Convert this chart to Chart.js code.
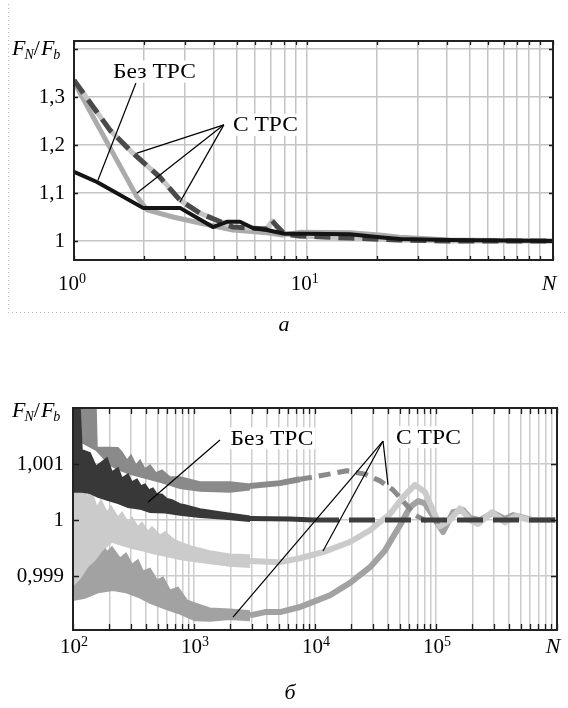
<!DOCTYPE html>
<html><head><meta charset="utf-8">
<script src="https://cdn.jsdelivr.net/npm/chart.js@4.4.1/dist/chart.umd.min.js"></script>
<style>
html,body{margin:0;padding:0;background:#fff;width:568px;height:708px;overflow:hidden;}
canvas{position:absolute;left:0;}
#ca{top:0;} #cb{top:345px;}
</style></head><body>
<canvas id="ca" width="568" height="345"></canvas>
<canvas id="cb" width="568" height="363"></canvas>
<script>
// ===== Panel a data =====
const aXMin = 1, aXMax = 114, aYMin = 0.9604, aYMax = 1.4167;
const aXTicks = [1,2,3,4,5,6,7,8,9,10,20,30,40,50,60,70,80,90,100,114];
const aXLabelVals = [1, 10, 114];
const aXLabels = ['10^0', '10^1', 'N'];
const aYTicks = [1, 1.1, 1.2, 1.3, 1.4];
const aYLabels = ['1', '1,1', '1,2', '1,3', ''];

const aBlackN = [1, 1.255, 1.978, 2.851, 3.95, 4.53, 5.16, 5.86, 6.72, 8.03, 10, 15.3, 20.5, 25, 41, 114];
const aBlackV = [1.144, 1.123, 1.069, 1.069, 1.029, 1.04, 1.04, 1.027, 1.023, 1.015, 1.015, 1.014, 1.008, 1.004, 1.002, 1.0];
const aLightN = [1, 1.864, 2.058, 2.66, 3.47, 4.82, 6.72, 7.87, 9.3, 15.3, 20.5, 25, 41, 114];
const aLightV = [1.331, 1.092, 1.065, 1.05, 1.0375, 1.023, 1.017, 1.0125, 1.018, 1.017, 1.0125, 1.008, 1.002, 1.0];
const aDashN = [1, 1.427, 1.791, 2.337, 2.851, 3.47, 4.82, 6.72, 7.1, 7.42, 8.03, 9.3, 15.3, 25, 41, 114];
const aDashV = [1.335, 1.231, 1.183, 1.133, 1.085, 1.058, 1.029, 1.025, 1.042, 1.031, 1.0146, 1.0104, 1.006, 1.002, 1.0, 1.0];

const aTextBez = {x: 2.216, y: 1.353, t: 'Без ТРС'};
const aTextS = {x: 6.636, y: 1.242, t: 'С ТРС'};
const aLeadBez = [[1.845, 1.329], [1.268, 1.127]];
const aLeadApex = [4.40, 1.242];
const aLeadTargets = [[1.864, 1.183], [1.864, 1.1], [2.851, 1.081]];

// ===== Panel b data =====
const bXMin = 100, bXMax = 1000000, bYMin = 0.99804, bYMax = 1.002;
const bXTicks = [100,200,300,400,500,600,700,800,900,1000,2000,3000,4000,5000,6000,7000,8000,9000,
  10000,20000,30000,40000,50000,60000,70000,80000,90000,100000,200000,300000,400000,500000,600000,700000,800000,900000,1000000];
const bXLabelVals = [100, 1000, 10000, 100000, 1000000];
const bXLabels = ['10^2', '10^3', '10^4', '10^5', 'N'];
const bYTicks = [0.999, 1, 1.001];
const bYLabels = ['0,999', '1', '1,001'];

// "Без ТРС" (dark): oscillation envelope then settled line
const bDarkTopN = [100,114.3,118.7,138.2,154.9,191,210.1,235.4,254.1,284.8,307.3,338,364.8,393.6,424.8,458.5,494.6,543.9,598.3,658.2,766.2,842.6,1121,1804,2903];
const bDarkTopV = [1.002,1.002,1.00125,1.0012,1.00096,1.00111,1.00086,1.00093,1.00075,1.00082,1.00068,1.00073,1.00061,1.00064,1.00054,1.00057,1.00046,1.00046,1.00038,1.00036,1.00029,1.00027,1.0002,1.00013,1.00007];
const bDarkBotN = [100,118.7,138.2,160.9,191,235.4,284.8,357.8,433,575.9,766.2,1121,1804,2903];
const bDarkBotV = [1.0005,1.0005,1.00048,1.00041,1.00036,1.0003,1.00023,1.0002,1.00014,1.00013,1.00009,1.00005,1.00002,0.99998];
const bDarkN = [2903, 6215, 9627];
const bDarkV = [1.00003, 1.00002, 1.0];
const bDarkDashN = [9627, 1000000];
const bDarkDashV = [1.0, 1.0];

// "С ТРС" upper (medium gray)
const bUpTopN = [107.9,154.9,157.9,235.4,254.1,279.4,301.6,331.6,357.8,393.6,433,485.3,543.9,633.6,766.2,1121,1984,2903];
const bUpTopV = [1.002,1.002,1.0013,1.00129,1.00121,1.00107,1.00116,1.00098,1.00107,1.00091,1.00098,1.00084,1.00089,1.00077,1.00077,1.00068,1.00068,1.00064];
const bUpBotN = [107.9,154.9,202.2,244.5,295.8,393.6,523.6,766.2,1121,1984,2903];
const bUpBotV = [1.00143,1.00125,1.00098,1.00089,1.00082,1.00075,1.00068,1.00057,1.00052,1.0005,1.00054];
const bUpperN = [2903, 5137, 7516];
const bUpperV = [1.00061, 1.00066, 1.00073];
const bUpperDashN = [7516,10999,18390,25900,34450,44120,55440,67060,84270,107900];
const bUpperDashV = [1.00073,1.00079,1.00088,1.00082,1.0007,1.00054,1.0003,1.00009,0.99998,0.99998];

// "С ТРС" middle (light gray)
const bLtTopN = [100,105.9,112.1,118.7,130.5,140.9,157.9,170.4,191,206.1,235.4,254.1,284.8,307.3,344.5,371.7,416.8,449.8,523.6,575.9,696.6,926.7,1356,1984,2903];
const bLtTopV = [1.00102,1.00098,1.00063,1.00075,1.00041,1.00054,1.00023,1.00036,1.00014,1.00025,1.00005,1.00014,0.99996,1.00005,0.99988,0.99996,0.9998,0.99988,0.99973,0.99979,0.99964,0.99954,0.99945,0.99939,0.99938];
const bLtBotN = [100,114.3,133,152,173.6,210.1,254.1,307.3,371.7,449.8,575.9,766.2,1121,1984,2903];
const bLtBotV = [0.99884,0.99896,0.99918,0.99929,0.99946,0.99961,0.99955,0.9995,0.99946,0.99941,0.99936,0.9993,0.99925,0.99918,0.99916];
const bLightN = [2903,5137,7516,11646,19470,28480,41680,55440,67060,81140,107900,130500,157900,191000,222400,290300,371700,449800,598300,1000000];
const bLightV = [0.99927,0.99925,0.99932,0.99943,0.99961,0.99982,1.00011,1.00045,1.00063,1.0005,0.99989,1.0,1.00021,1.0,0.99993,1.00014,0.99996,1.00007,1.0,1.0];

// "С ТРС" lower (gray)
const bLoTopN = [100,114.3,125.6,138.2,152,170.4,191,210.1,244.5,274.2,307.3,344.5,378.9,433,494.6,554.4,633.6,737.6,875.3,1019,1356,1984,2903];
const bLoTopV = [1.00018,1.00004,0.99973,0.99982,0.99955,0.99964,0.99943,0.99952,0.99932,0.99941,0.99921,0.99929,0.99909,0.99914,0.99893,0.99898,0.99875,0.9988,0.99857,0.99852,0.99843,0.99841,0.99838];
const bLoBotN = [100,125.6,160.9,214.1,274.2,344.5,433,554.4,737.6,1019,1356,1984,2903];
const bLoBotV = [0.99857,0.99861,0.99871,0.99875,0.99871,0.99863,0.99852,0.99843,0.99834,0.99821,0.9982,0.99823,0.99821];
const bLowerN = [2903,3863,5137,7516,9094,13305,19470,28480,37890,50410,60970,71010,81140,114300,138200,167200,191000,231000,295900,371700,433000,633600,1000000];
const bLowerV = [0.9983,0.99836,0.99836,0.99845,0.99852,0.99866,0.99888,0.99916,0.99946,0.99991,1.00023,1.00034,1.0003,0.99979,1.00014,1.00018,1.00004,1.0,1.00013,1.00002,1.00009,1.0,1.0];

const bTextBez = {x: 4412, y: 1.00146, t: 'Без ТРС'};
const bTextS = {x: 86700, y: 1.00148, t: 'С ТРС'};
const bLeadBez = [[1640, 1.00143], [416.8, 1.00032]];
const bLeadApex = [36480, 1.00141];
const bLeadTargets = [[2100, 0.99827], [11646, 0.99945], [40120, 1.00063]];

// ===== helpers =====
const SERIF = '"Liberation Serif", "Times New Roman", Times, serif';
const pts = (ns, vs) => ns.map((n, i) => ({x: n, y: vs[i]}));
const seg = (a, b) => [{x: a[0], y: a[1]}, {x: b[0], y: b[1]}];

function lineDs(data, color, width, dash) {
  return {type: 'line', data, borderColor: color, borderWidth: width, borderDash: dash || [],
    pointRadius: 0, tension: 0, fill: false, borderJoinStyle: 'round', borderCapStyle: 'butt', clip: 0};
}
function bandTop(data, color) {
  return {type: 'line', data, borderColor: color, backgroundColor: color, borderWidth: 1.5,
    pointRadius: 0, tension: 0, fill: '+1', clip: 0};
}
function bandBot(data, color) {
  return {type: 'line', data, borderColor: color, borderWidth: 1.5, pointRadius: 0, tension: 0, fill: false, clip: 0};
}
function leaderDs(data) { return lineDs(data, '#000', 1.2); }

function drawFrac(ctx, x, base) {
  ctx.save();
  ctx.fillStyle = '#000'; ctx.textAlign = 'left'; ctx.textBaseline = 'alphabetic';
  const big = 'italic 22px ' + SERIF, small = 'italic 14px ' + SERIF;
  let cx = x;
  ctx.font = big; ctx.fillText('F', cx, base); cx += ctx.measureText('F').width - 1;
  ctx.font = small; ctx.fillText('N', cx, base + 4); cx += ctx.measureText('N').width;
  ctx.font = '22px ' + SERIF; ctx.fillText('/', cx, base); cx += ctx.measureText('/').width + 1;
  ctx.font = big; ctx.fillText('F', cx, base); cx += ctx.measureText('F').width - 1;
  ctx.font = small; ctx.fillText('b', cx, base + 4);
  ctx.restore();
}

function drawLabel(chart, lab) {
  const ctx = chart.ctx;
  const px = chart.scales.x.getPixelForValue(lab.x), py = chart.scales.y.getPixelForValue(lab.y);
  ctx.save();
  ctx.font = '21px ' + SERIF;
  const w = ctx.measureText(lab.t).width * 1.12;
  ctx.fillStyle = '#fff';
  ctx.fillRect(px - w / 2 - 2, py - 11, w + 4, 22);
  ctx.translate(px, py);
  ctx.scale(1.12, 1);
  ctx.fillStyle = '#000'; ctx.textAlign = 'center'; ctx.textBaseline = 'middle';
  ctx.fillText(lab.t, 0, 1);
  ctx.restore();
}

// x tick labels "10^k" drawn as base + raised exponent at the scale's tick pixels
function drawXLabels(chart, cfg) {
  const ctx = chart.ctx, a = chart.chartArea, sx = chart.scales.x;
  const base = a.bottom + cfg.labBase;
  ctx.save();
  ctx.fillStyle = '#000'; ctx.textBaseline = 'alphabetic'; ctx.textAlign = 'left';
  cfg.xLabelVals.forEach((v, i) => {
    const x = sx.getPixelForValue(v);
    const parts = cfg.xLabels[i].split('^');
    if (parts.length === 1) {
      ctx.font = 'italic 22px ' + SERIF;
      const w = ctx.measureText(parts[0]).width;
      ctx.fillText(parts[0], x - w / 2 - 4, base);
      return;
    }
    ctx.font = '21px ' + SERIF; const w1 = ctx.measureText(parts[0]).width;
    ctx.font = '14px ' + SERIF; const w2 = ctx.measureText(parts[1]).width;
    const left = x - (w1 + w2) / 2 + cfg.labShift;
    ctx.font = '21px ' + SERIF; ctx.fillText(parts[0], left, base);
    ctx.font = '14px ' + SERIF; ctx.fillText(parts[1], left + w1, base - 7);
  });
  ctx.restore();
}

function panelPlugin(cfg) {
  return {
    id: 'panel' + cfg.name,
    afterDatasetsDraw(chart) {
      const ctx = chart.ctx, a = chart.chartArea, sx = chart.scales.x, sy = chart.scales.y;
      cfg.labels.forEach(l => drawLabel(chart, l));
      ctx.save();
      ctx.strokeStyle = '#1a1a1a'; ctx.lineWidth = 1.3;
      const tl = cfg.tickLen;
      sx.ticks.forEach(t => {
        const x = Math.round(sx.getPixelForValue(t.value)) + 0.5;
        ctx.beginPath(); ctx.moveTo(x, a.bottom); ctx.lineTo(x, a.bottom - tl);
        ctx.moveTo(x, a.top); ctx.lineTo(x, a.top + tl); ctx.stroke();
      });
      sy.ticks.forEach(t => {
        const y = Math.round(sy.getPixelForValue(t.value)) + 0.5;
        ctx.beginPath(); ctx.moveTo(a.left, y); ctx.lineTo(a.left + tl, y);
        ctx.moveTo(a.right, y); ctx.lineTo(a.right - tl, y); ctx.stroke();
      });
      ctx.lineWidth = 2; ctx.strokeStyle = '#222';
      ctx.strokeRect(a.left, a.top, a.right - a.left, a.bottom - a.top);
      ctx.restore();
    },
    afterDraw(chart) {
      const ctx = chart.ctx;
      drawXLabels(chart, cfg);
      drawFrac(ctx, cfg.titleX, cfg.titleBase);
      ctx.save();
      ctx.fillStyle = '#000'; ctx.font = 'italic 22px ' + SERIF;
      ctx.textAlign = 'center'; ctx.textBaseline = 'middle';
      ctx.fillText(cfg.letter, cfg.letterX, cfg.letterY);
      if (cfg.dotted) {
        ctx.strokeStyle = '#b8b8b8'; ctx.lineWidth = 1; ctx.setLineDash([1, 3]);
        ctx.beginPath(); ctx.moveTo(8.5, 4); ctx.lineTo(8.5, 312.5); ctx.lineTo(568, 312.5); ctx.stroke();
      }
      ctx.restore();
    }
  };
}

function makeScales(o) {
  return {
    x: {
      type: 'logarithmic', min: o.xMin, max: o.xMax,
      afterBuildTicks: (s) => { s.ticks = o.xTicks.map(v => ({value: v})); },
      afterFit: (s) => { s.height = o.xH; s.paddingLeft = 0; s.paddingRight = 0; },
      ticks: {autoSkip: false, maxRotation: 0, minRotation: 0, callback: () => ''},
      grid: {color: o.gridColor, lineWidth: 1.5, drawTicks: false},
      border: {display: true, color: '#222', width: 2}
    },
    y: {
      type: 'linear', min: o.yMin, max: o.yMax,
      afterBuildTicks: (s) => { s.ticks = o.yTicks.map(v => ({value: v})); },
      afterFit: (s) => { s.width = o.yW; s.paddingTop = 0; s.paddingBottom = 0; },
      ticks: {autoSkip: false, padding: 9, color: '#000', font: {family: SERIF, size: 21},
        callback: (v, i) => o.yLabels[i]},
      grid: {color: o.gridColor, lineWidth: 1.5, drawTicks: false},
      border: {display: true, color: '#222', width: 2}
    }
  };
}

const baseOpts = {responsive: false, animation: false, devicePixelRatio: 1,
  plugins: {legend: {display: false}, tooltip: {enabled: false}}, events: []};

function build() {
  new Chart(document.getElementById('ca'), {
    type: 'line',
    data: {datasets: [
      leaderDs(seg(aLeadBez[0], aLeadBez[1])),
      ...aLeadTargets.map(t => leaderDs(seg(aLeadApex, t))),
      lineDs(pts(aBlackN, aBlackV), '#141414', 4),
      lineDs(pts(aDashN, aDashV), '#4a4a4a', 5, [16, 8]),
      lineDs(pts(aDashN, aDashV), '#c6c6c6', 5),
      lineDs(pts(aLightN, aLightV), '#ababab', 5)
    ]},
    options: Object.assign({}, baseOpts, {
      layout: {padding: {top: 41, right: 15, left: 0, bottom: 0}},
      scales: makeScales({xMin: aXMin, xMax: aXMax, xTicks: aXTicks,
        yMin: aYMin, yMax: aYMax, yTicks: aYTicks, yLabels: aYLabels, xH: 85, yW: 74, gridColor: '#c4c4c4'})
    }),
    plugins: [panelPlugin({name: 'a', labels: [aTextBez, aTextS], tickLen: 4, titleX: 12, titleBase: 55,
      xLabelVals: aXLabelVals, xLabels: aXLabels, labBase: 30, labShift: -2,
      letter: 'a', letterX: 284, letterY: 325, dotted: true})]
  });

  const cDark = '#383838', cUp = '#8a8a8a', cLt = '#cbcbcb', cLo = '#a2a2a2';
  new Chart(document.getElementById('cb'), {
    type: 'line',
    data: {datasets: [
      leaderDs(seg(bLeadBez[0], bLeadBez[1])),
      ...bLeadTargets.map(t => leaderDs(seg(bLeadApex, t))),
      bandTop(pts(bDarkTopN, bDarkTopV), cDark),
      bandBot(pts(bDarkBotN, bDarkBotV), cDark),
      lineDs(pts(bDarkN, bDarkV), cDark, 5),
      lineDs(pts(bDarkDashN, bDarkDashV), '#3e3e3e', 5, [26, 10]),
      bandTop(pts(bUpTopN, bUpTopV), cUp),
      bandBot(pts(bUpBotN, bUpBotV), cUp),
      lineDs(pts(bUpperN, bUpperV), cUp, 6),
      lineDs(pts(bUpperDashN, bUpperDashV), cUp, 5, [12, 7]),
      bandTop(pts(bLtTopN, bLtTopV), cLt),
      bandBot(pts(bLtBotN, bLtBotV), cLt),
      lineDs(pts(bLightN, bLightV), cLt, 6),
      bandTop(pts(bLoTopN, bLoTopV), cLo),
      bandBot(pts(bLoBotN, bLoBotV), cLo),
      lineDs(pts(bLowerN, bLowerV), cLo, 6)
    ]},
    options: Object.assign({}, baseOpts, {
      layout: {padding: {top: 63, right: 11, left: 0, bottom: 0}},
      scales: makeScales({xMin: bXMin, xMax: bXMax, xTicks: bXTicks,
        yMin: bYMin, yMax: bYMax, yTicks: bYTicks, yLabels: bYLabels, xH: 78, yW: 73, gridColor: '#cccccc'})
    }),
    plugins: [panelPlugin({name: 'b', labels: [bTextBez, bTextS], tickLen: 6, titleX: 12, titleBase: 72,
      xLabelVals: bXLabelVals, xLabels: bXLabels, labBase: 23, labShift: 1,
      letter: 'б', letterX: 290, letterY: 348, dotted: false})]
  });
}

const fontLoads = ['21px "Liberation Serif"', 'italic 22px "Liberation Serif"'].map(f => document.fonts.load(f, 'Без ТРС 10'));
Promise.all(fontLoads).then(build, build);
</script>
</body></html>
